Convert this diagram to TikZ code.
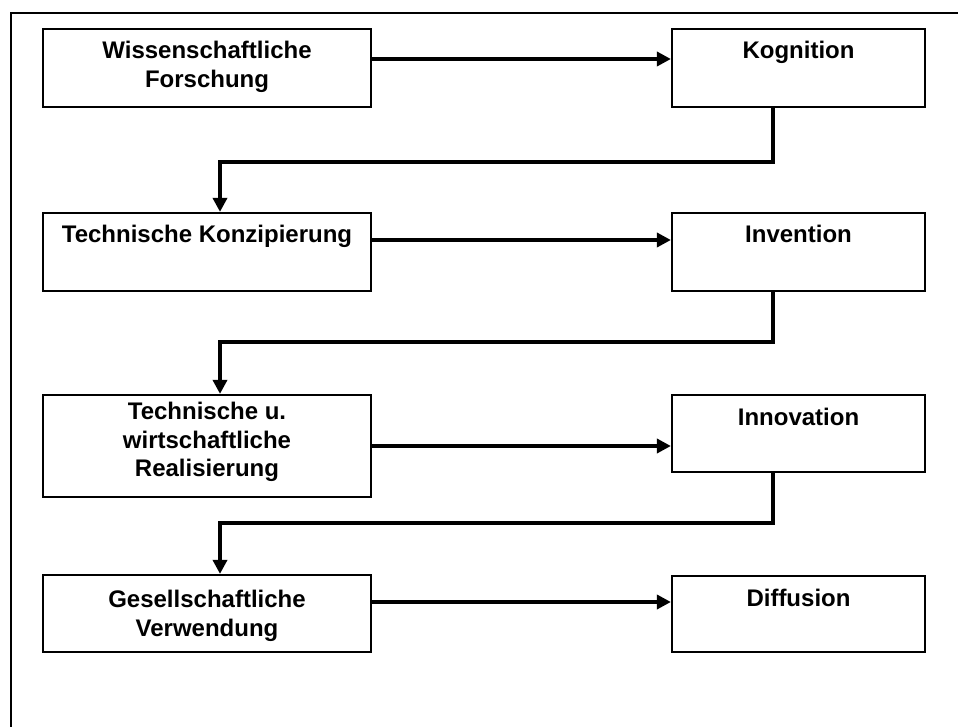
\documentclass[tikz,border=0pt]{standalone}
\usepackage{fontspec}
\setmainfont{Liberation Sans}
\usetikzlibrary{arrows.meta}
\newcommand\mybox[4]{\parbox[c][#2][t]{#1}{\centering\rule{0pt}{#3}#4}}
\tikzset{
  stage/.style={draw, line width=2.2pt, rectangle, inner sep=0pt, font=\bfseries\fontsize{24}{29}\selectfont},
  conn/.style={line width=4pt, -{Triangle[length=14pt,width=14pt]}},
  frameline/.style={line width=2pt}
}
\begin{document}
\begin{tikzpicture}[x=1pt,y=-1pt]
\useasboundingbox (0,0) rectangle (959,727);
\fill[white] (0,0) rectangle (959,727);
\draw[frameline] (11,727) -- (11,13) -- (958,13);
% left column
\node[stage] (wf) at (207,68) {\mybox{328pt}{78pt}{30pt}{Wissenschaftliche\\Forschung}};
\node[stage] (tk) at (207,252) {\mybox{328pt}{78pt}{30pt}{Technische Konzipierung}};
\node[stage] (tr) at (207,446) {\mybox{328pt}{102pt}{24pt}{Technische u.\\wirtschaftliche\\Realisierung}};
\node[stage] (gv) at (207,613.5) {\mybox{328pt}{77pt}{32pt}{Gesellschaftliche\\Verwendung}};
% right column
\node[stage] (kog) at (798.5,68) {\mybox{253pt}{78pt}{30pt}{Kognition}};
\node[stage] (inv) at (798.5,252) {\mybox{253pt}{78pt}{30pt}{Invention}};
\node[stage] (inn) at (798.5,433.5) {\mybox{253pt}{77pt}{30pt}{Innovation}};
\node[stage] (dif) at (798.5,614) {\mybox{253pt}{76pt}{30pt}{Diffusion}};
% horizontal arrows
\draw[conn] ([yshift=9pt]wf.east) -- ([yshift=9pt]wf.east -| kog.west);
\draw[conn] ([yshift=12pt]tk.east) -- ([yshift=12pt]tk.east -| inv.west);
\draw[conn] (tr.east) -- (tr.east -| inn.west);
\draw[conn] ([yshift=11.5pt]gv.east) -- ([yshift=11.5pt]gv.east -| dif.west);
% return connectors
\coordinate (c1) at (220,162);
\coordinate (c2) at (220,342);
\coordinate (c3) at (220,523);
\draw[conn] ([xshift=-25.5pt]kog.south) |- (c1) -- (c1 |- tk.north);
\draw[conn] ([xshift=-25.5pt]inv.south) |- (c2) -- (c2 |- tr.north);
\draw[conn] ([xshift=-25.5pt]inn.south) |- (c3) -- (c3 |- gv.north);
\end{tikzpicture}
\end{document}
